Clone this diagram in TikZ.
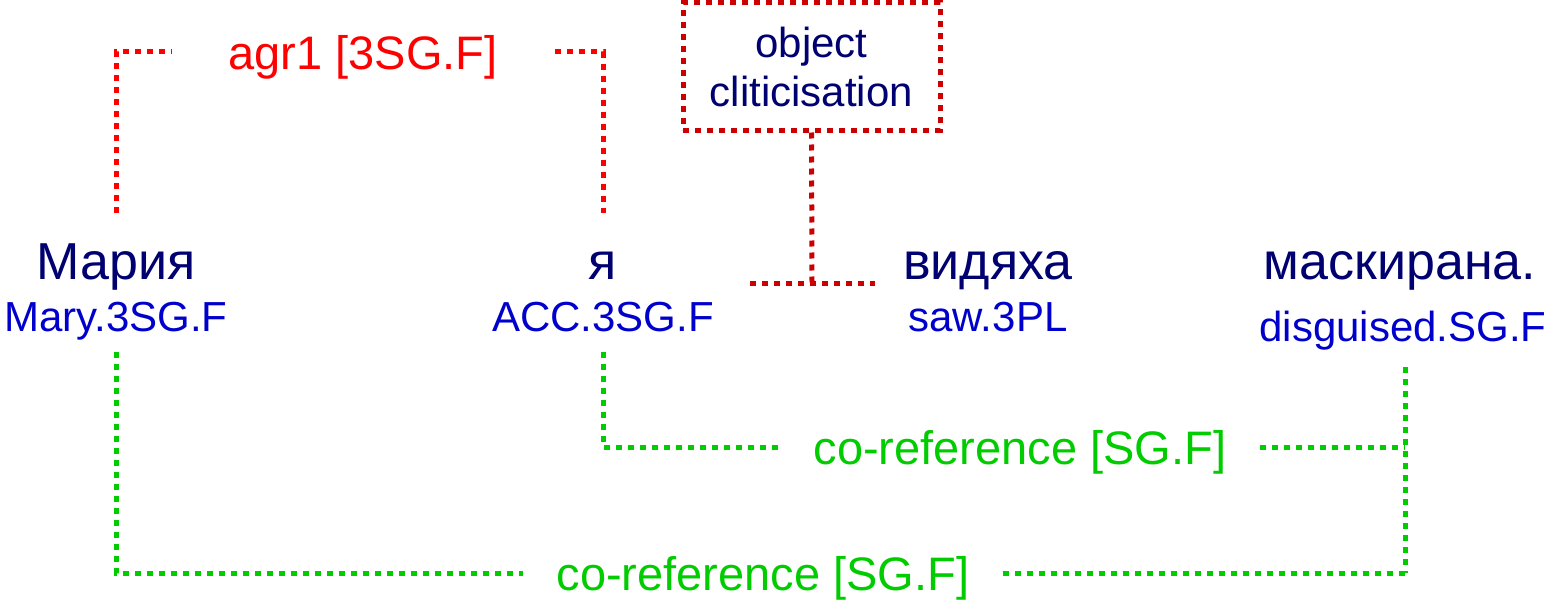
\documentclass[tikz,border=0pt]{standalone}
\usepackage{fontspec}
\setmainfont{Liberation Sans}
\begin{document}
\begin{tikzpicture}[x=1pt,y=-1pt,
  dotline/.style={line width=5pt,dash pattern=on 6pt off 6pt,line cap=butt},
  word/.style={text=wordblue,font=\fontsize{52}{60}\selectfont,anchor=base,inner sep=0pt},
  gloss/.style={text=glossblue,font=\fontsize{42}{50}\selectfont,anchor=base,inner sep=0pt},
  lab/.style={font=\fontsize{47}{56}\selectfont,inner ysep=0pt,inner xsep=33pt},
]
\definecolor{wordblue}{HTML}{000070}
\definecolor{glossblue}{HTML}{0000CC}
\definecolor{agrred}{HTML}{FF0000}
\definecolor{clitred}{HTML}{CC0000}
\definecolor{corefgreen}{HTML}{00CC00}
\useasboundingbox (0,0) rectangle (1548,602);

% words and glosses
\node[word]  (maria)  at (116,279)  {Мария};
\node[gloss] (mariag) at (116,331)  {Mary.3SG.F};
\node[word]  (ja)     at (603,279)  {я};
\node[gloss] (jag)    at (603,331)  {ACC.3SG.F};
\node[word]  (vid)    at (988,279)  {видяха};
\node[gloss] (vidg)   at (988,331)  {saw.3PL};
\node[word]  (mask)   at (1400,279) {маскирана.};
\node[gloss] (maskg)  at (1403,341) {disguised.SG.F};

% agreement bracket (label text sits a little below its line)
\node[lab,text=agrred,inner xsep=57pt] (agr) at (363,57) {agr1 [3SG.F]};
\coordinate (mariaTop) at (116,213);
\coordinate (jaTop) at (603,213);
\draw[dotline,agrred] (mariaTop) |- ([yshift=5pt]agr.west);
\draw[dotline,agrred] ([yshift=5pt]agr.east) -| (jaTop);

% clitic box
\node[draw=clitred,dotline,text=wordblue,font=\fontsize{42}{49}\selectfont,
      align=center,minimum width=257pt,minimum height=127pt,inner sep=0pt]
      (clit) at (811.5,66.5) {object\\cliticisation};
\coordinate (clitL) at (750,283);
\coordinate (clitR) at (875,283);
\coordinate (clitJ) at (812,283);
\draw[dotline,clitred] (clit.south) -- (clitJ);
\draw[dotline,clitred] (clitL) -- (clitR);

% co-reference brackets
\node[lab,text=corefgreen] (coref1) at (1020,452) {co-reference [SG.F]};
\node[lab,text=corefgreen] (coref2) at (763,578) {co-reference [SG.F]};
\coordinate (jaBot) at (603,352);
\coordinate (mariaBot) at (116,352);
\coordinate (maskBot) at (1405,367);
\coordinate (maskEnd) at (1405,573);
\draw[dotline,corefgreen] (jaBot) |- ([yshift=5pt]coref1.west);
\draw[dotline,corefgreen] ([yshift=5pt]coref1.east) -- ([yshift=5pt]coref1.east -| maskBot);
\draw[dotline,corefgreen] (maskBot) -- (maskEnd);
\draw[dotline,corefgreen] (mariaBot) |- ([yshift=5pt]coref2.west);
\draw[dotline,corefgreen] ([yshift=5pt]coref2.east) -- (maskEnd);
\end{tikzpicture}
\end{document}
